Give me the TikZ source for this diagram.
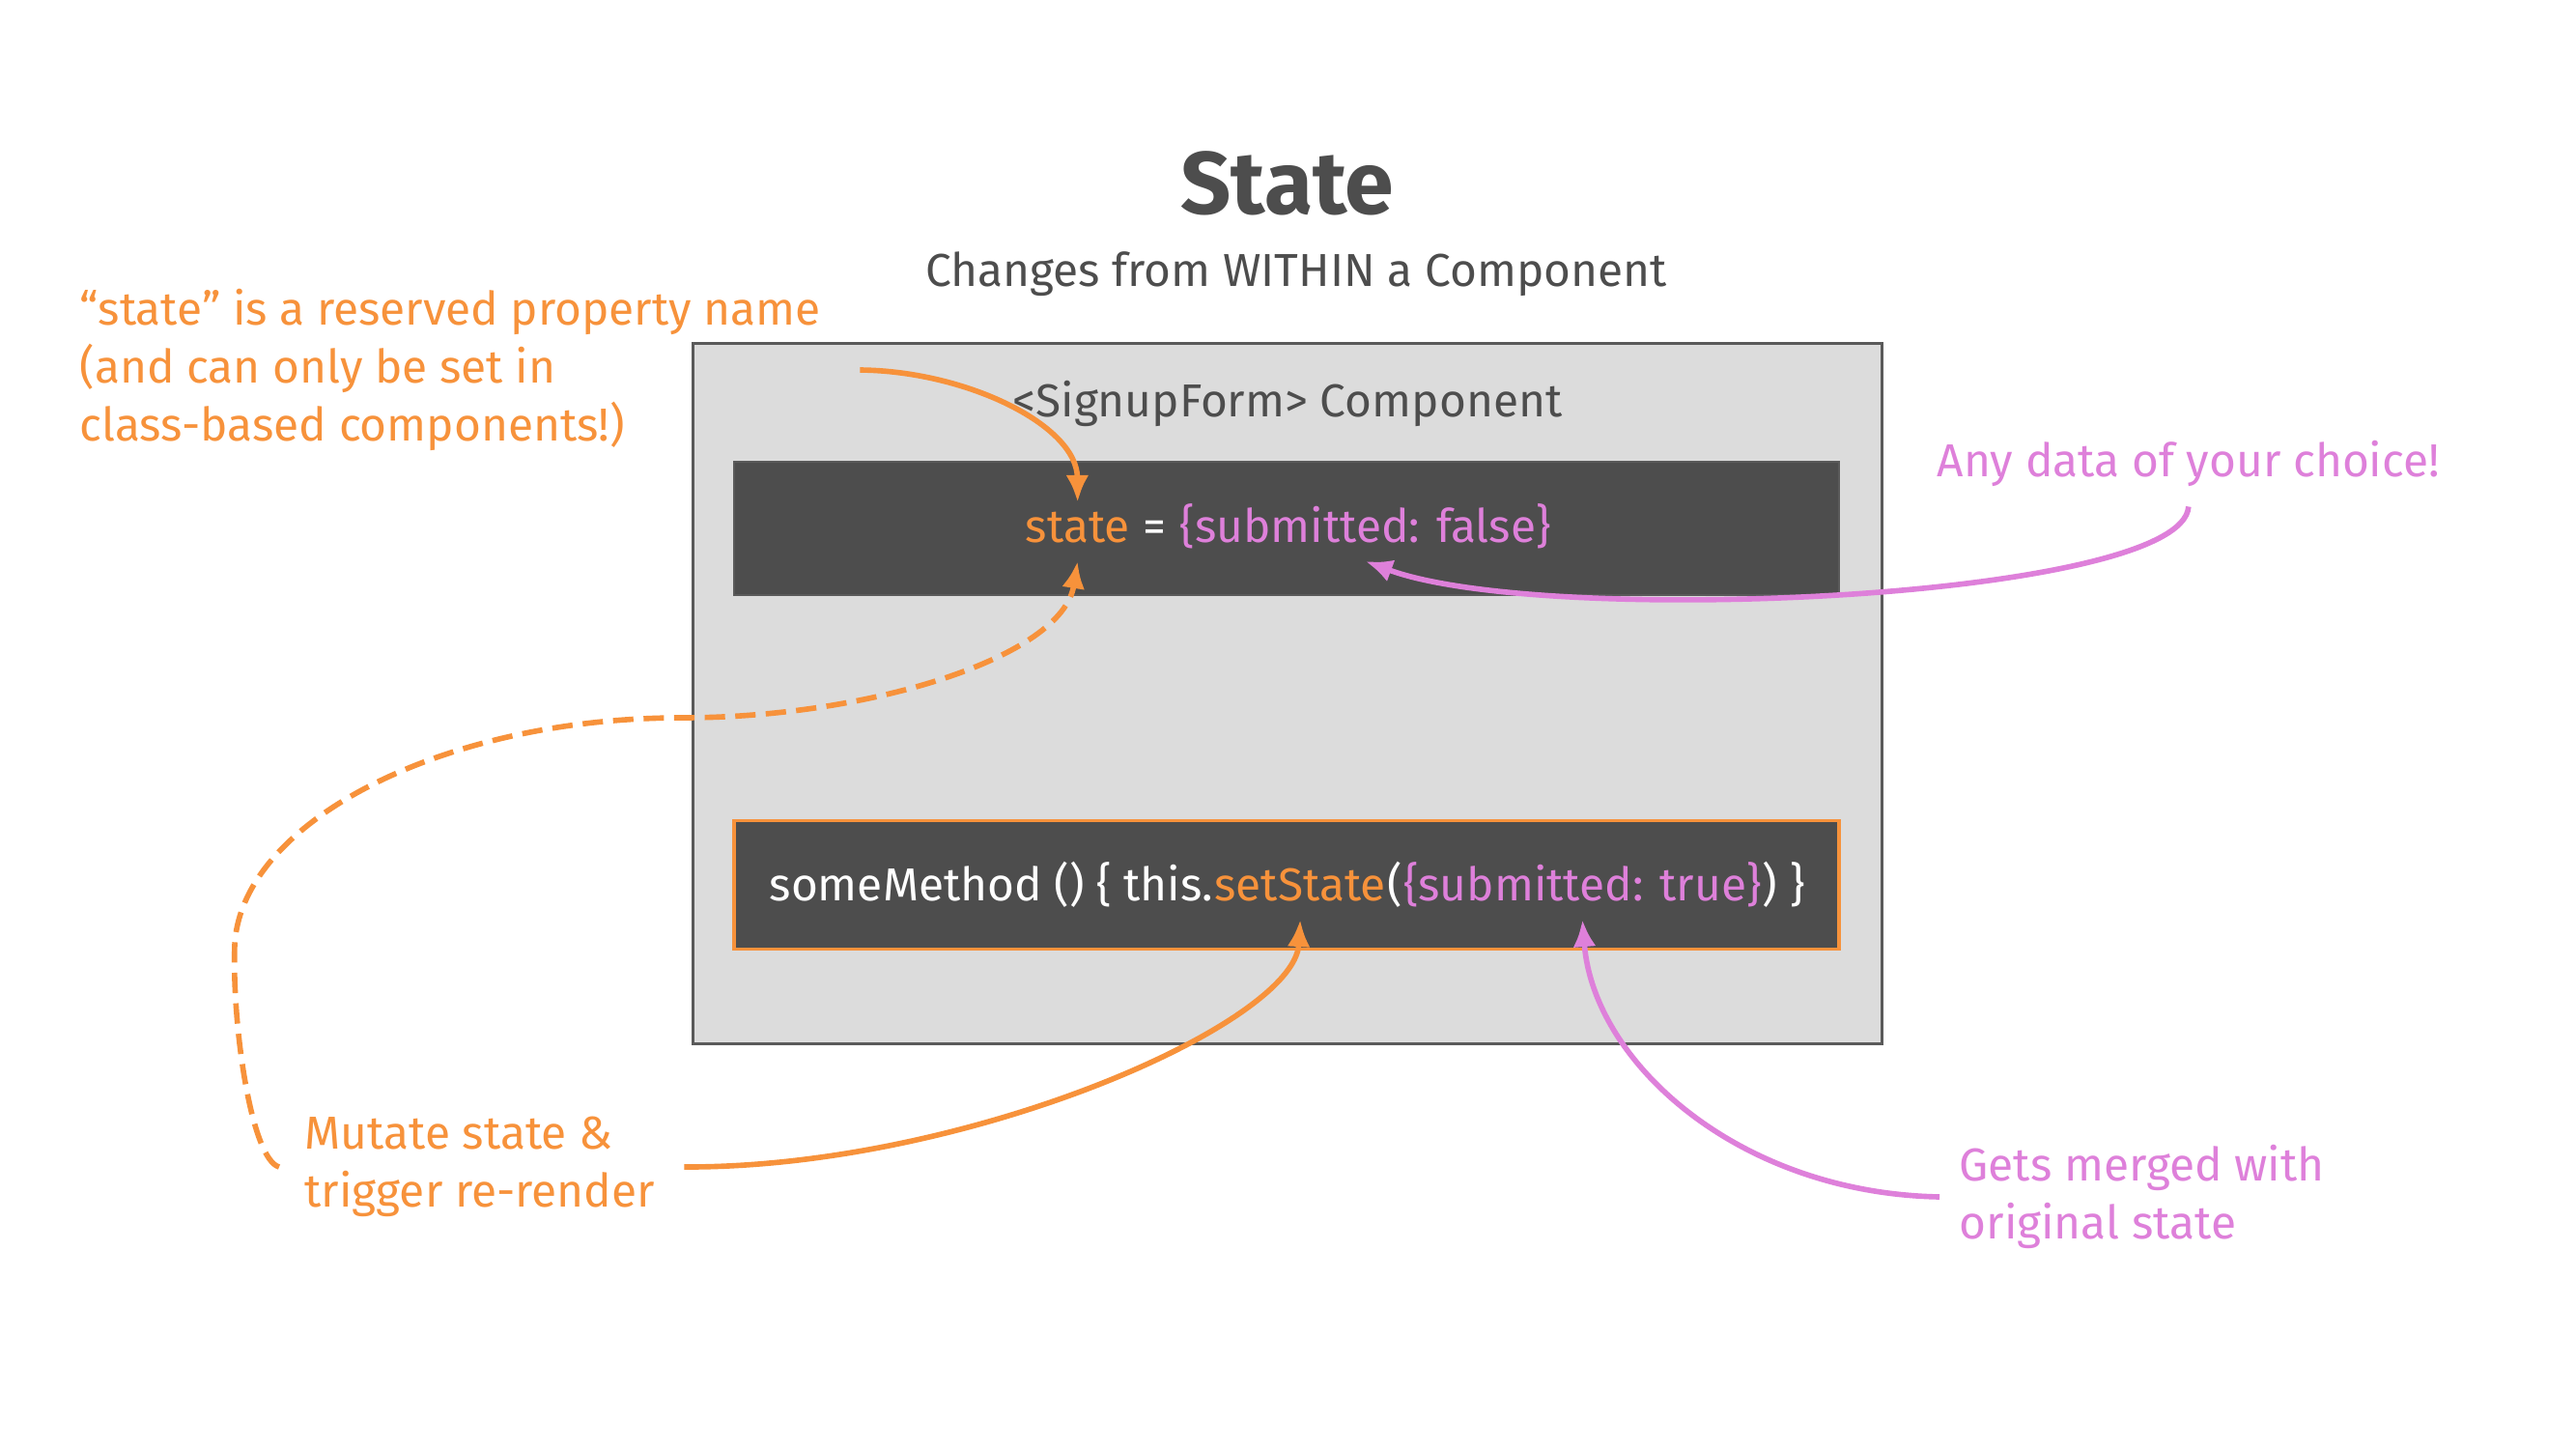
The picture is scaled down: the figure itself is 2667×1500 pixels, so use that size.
\documentclass[tikz,border=0pt]{standalone}
\usepackage{fontspec}
\setmainfont{Fira Sans}
\usepackage{xcolor}
\usepackage{tikz}
\usetikzlibrary{arrows.meta,positioning,calc}
\definecolor{stink}{HTML}{4D4D4D}
\definecolor{stbar}{HTML}{4D4D4D}
\definecolor{stpanel}{HTML}{DCDCDC}
\definecolor{stframe}{HTML}{5A5A5A}
\definecolor{storange}{HTML}{F7923B}
\definecolor{stpink}{HTML}{DE80DA}
\newcommand{\txtsize}{\fontsize{13.6}{17}\selectfont}

\begin{document}
\begin{tikzpicture}[x=0.01cm,y=-0.01cm,
  note/.style={inner sep=0pt,align=left,font=\txtsize},
  code/.style={inner xsep=0pt,inner ysep=1.5pt,text height=10pt,text depth=4pt,font=\txtsize},
  frame/.style={draw=stframe,fill=stpanel,line width=0.8pt,
                minimum width=12.3cm,minimum height=7.24cm},
  bar/.style={fill=stbar,minimum width=11.43cm},
  arr/.style={-{Latex[length=2.8mm,width=2.4mm]},line width=1.6pt}
]
\path[use as bounding box,fill=white] (0,0) rectangle (2667,1500);
% heading
\node[font=\fontsize{26}{30}\selectfont\bfseries,text=stink] (title) at (1333,190) {State};
\node[font=\txtsize,text=stink] (subtitle) at (1342,284) {Changes from WITHIN a Component};
% component panel
\node[frame] (comp) at (1333,718) {};
\node[font=\txtsize,text=stink] (compLabel) at (1333,418) {<SignupForm> Component};
\node[bar,draw=stframe,minimum height=1.38cm] (stateBar) at (1332,547) {};
\node[bar,draw=storange,line width=1pt,minimum height=1.33cm] (methodBar) at (1332,916) {};
% code lines
\node[code,text=storange,anchor=base west] (stKey) at (1061,561) {state};
\node[code,text=white,anchor=base west] (stEq) at (stKey.base east) {\ =\kern0.27em};
\node[code,text=stpink,anchor=base west] (stVal) at (stEq.base east) {\{submitted: false\}};
\node[code,text=white,anchor=base west] (smHead) at (796,932) {someMethod () \{ this.};
\node[code,text=storange,anchor=base west] (smSet) at (smHead.base east) {setState};
\node[code,text=white,anchor=base west] (smOpen) at (smSet.base east) {(};
\node[code,text=stpink,anchor=base west] (smArg) at (smOpen.base east) {\{submitted: true\}};
\node[code,text=white,anchor=base west] (smClose) at (smArg.base east) {)\ \}};
% side notes
\node[note,text=storange,anchor=west] (noteReserved) at (82,383)
  {“state” is a reserved property name\\(and can only be set in\\class-based components!)};
\node[note,text=storange,anchor=west] (noteMutate) at (315,1208) {Mutate state \&\\trigger re-render};
\node[note,text=stpink,anchor=west] (noteData) at (2005,480) {Any data of your choice!};
\node[note,text=stpink,anchor=west] (noteMerge) at (2028,1239) {Gets merged with\\original state};
% connectors
\coordinate (reservedStart) at ([xshift=4mm]noteReserved.east);
\coordinate (mutateStart) at ([xshift=-2.6mm]noteMutate.west);
\coordinate (triggerStart) at ([xshift=3mm]noteMutate.east);
\coordinate (dataStart) at ([yshift=-2mm]noteData.south);
\coordinate (mergeStart) at ([xshift=-2mm]noteMerge.west);
\draw[arr,storange] (reservedStart) .. controls (1000,384) and (1115,440) .. (stKey.north);
\draw[arr,storange,dash pattern=on 6pt off 3pt] (mutateStart)
  .. controls (260,1200) and (240,1060) .. (243,978)
  .. controls (250,850) and (460,743) .. (706,743)
  .. controls (900,743) and (1100,680) .. (stKey.south);
\draw[arr,storange] (triggerStart) .. controls (1000,1209) and (1340,1060) .. (smSet.south);
\draw[arr,stpink] (dataStart) .. controls (2260,620) and (1600,650) .. (stVal.south);
\draw[arr,stpink] (mergeStart) .. controls (1800,1235) and (1650,1100) .. (smArg.south);
\end{tikzpicture}
\end{document}
